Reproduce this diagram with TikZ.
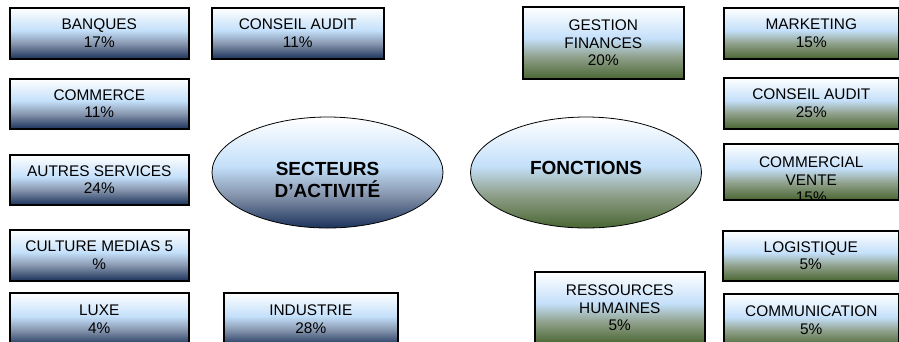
\documentclass[tikz,border=0pt]{standalone}
\usepackage{fontspec}
\setmainfont{Liberation Sans}
\usetikzlibrary{positioning,shapes.geometric}
\definecolor{marine}{HTML}{1B325A}
\definecolor{grisbleu}{HTML}{8796AE}
\definecolor{ciel}{HTML}{C4E0FA}
\definecolor{olive}{HTML}{4A6632}
\definecolor{grisvert}{HTML}{8FA08A}
% degrades (bottom -> top)
\pgfdeclareverticalshading{degbleu}{100bp}{color(0bp)=(marine); color(25bp)=(marine); color(40bp)=(grisbleu); color(53bp)=(ciel); color(75bp)=(white); color(100bp)=(white)}
\pgfdeclareverticalshading{degvert}{100bp}{color(0bp)=(olive); color(25bp)=(olive); color(40bp)=(grisvert); color(53bp)=(ciel); color(75bp)=(white); color(100bp)=(white)}

\begin{document}
\begin{tikzpicture}[x=1pt,y=-1pt,
  case/.style={rectangle, draw=black, line width=1.6pt, inner sep=0pt,
    align=center, anchor=north west, font=\fontsize{15.4}{17.7}\selectfont},
  secteur/.style={case, shading=degbleu},
  fonction/.style={case, shading=degvert},
  bulle/.style={ellipse, draw, line width=0.8pt, inner sep=0pt, align=center,
    minimum width=231pt, minimum height=111pt,
    font=\bfseries\fontsize{19}{22}\selectfont}]
  \useasboundingbox (0,0) rectangle (899,341);
  \clip (0,0) rectangle (899,341);

  % Secteurs d'activite (left)
  \node[secteur, minimum width=179pt, minimum height=51pt] (banques) at (9,7) {BANQUES\\17\%};
  \node[secteur, minimum width=179pt, minimum height=50pt] (commerce) at (9,78) {COMMERCE\\11\%};
  \node[secteur, minimum width=179pt, minimum height=50pt] (autres) at (9,154) {AUTRES SERVICES\\24\%};
  \node[secteur, minimum width=179pt, minimum height=51pt] (culture) at (9,229) {CULTURE MEDIAS 5\\\%};
  \node[secteur, minimum width=179pt, minimum height=53pt] (luxe) at (9,292) {LUXE\\4\%};
  \node[secteur, minimum width=172pt, minimum height=51pt] (conseilS) at (211,7) {CONSEIL AUDIT\\11\%};
  \node[secteur, minimum width=174pt, minimum height=53pt] (industrie) at (223,292) {INDUSTRIE\\28\%};
  \node[bulle, shading=degbleu] (secteurs) at (327.5,172.5) {\rule{0pt}{28pt}SECTEURS\\D’ACTIVITÉ};

  % Fonctions (right)
  \node[bulle, shading=degvert] (fonctions) at (586,172.5) {\rule[-10pt]{0pt}{10pt}FONCTIONS};
  \node[fonction, minimum width=161pt, minimum height=72pt] (gestion) at (522,6) {GESTION\\FINANCES\\20\%};
  \node[fonction, minimum width=175pt, minimum height=51pt] (marketing) at (723,7) {MARKETING\\15\%};
  \node[fonction, minimum width=175pt, minimum height=51pt] (conseilF) at (723,77) {CONSEIL AUDIT\\25\%};
  \node[fonction, minimum width=175pt, minimum height=56pt,
    path picture={\node[anchor=center, align=center, font=\fontsize{15.4}{17.7}\selectfont]
      at ([yshift=-8pt]path picture bounding box.center) {COMMERCIAL\\VENTE\\15\%};}]
    (commercial) at (723,143) {};
  \node[fonction, minimum width=176pt, minimum height=50pt] (logistique) at (722,230) {LOGISTIQUE\\5\%};
  \node[fonction, minimum width=175pt, minimum height=53pt] (communication) at (723,293) {COMMUNICATION\\5\%};
  \node[fonction, minimum width=170pt, minimum height=72pt] (rh) at (534,271) {RESSOURCES\\HUMAINES\\5\%};
\end{tikzpicture}
\end{document}
